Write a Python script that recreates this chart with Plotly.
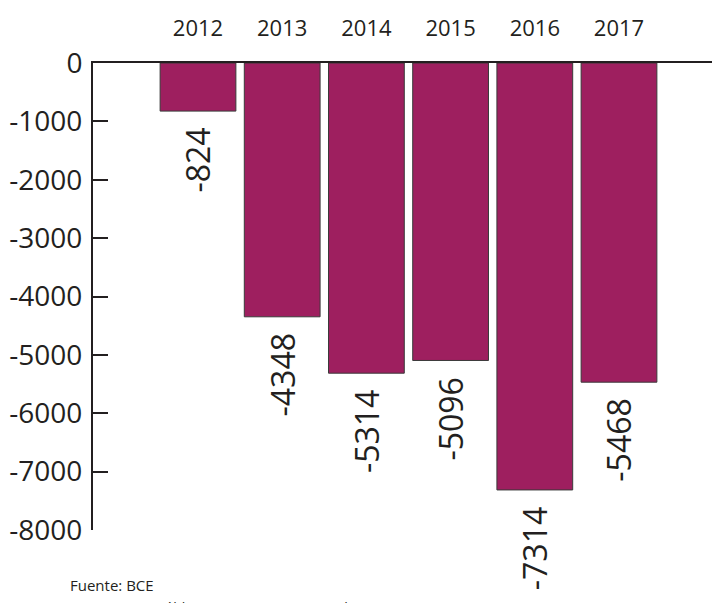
import plotly.graph_objects as go

years = ["2012", "2013", "2014", "2015", "2016", "2017"]
values = [-824, -4348, -5314, -5096, -7314, -5468]
y_ticks = [0, -1000, -2000, -3000, -4000, -5000, -6000, -7000, -8000]
footer_lines = ["Fuente: BCE", "SPNF: Sector Público no Financiero ajustado por IESS"]

bar_color = "#9E1F5F"
ink = "#231F20"
font_family = "Open Sans, Noto Sans, sans-serif"

# page body has an 8px margin; size the figure so no scrollbars appear
OFF = 8
W, H = 720 - 2 * OFF, 611 - 2 * OFF
L, T = 93 - OFF, 63 - OFF
B = H - (530 - OFF)
R = 0
plot_h = H - T - B
plot_w = W - L - R


def py(screen_y):
    return 1 - (screen_y - OFF - T) / plot_h


def px(screen_x):
    return (screen_x - OFF - L) / plot_w


xs = list(range(len(years)))
pitch = 84.2
x0 = -(198 - 93) / pitch
x1 = x0 + plot_w / pitch

fig = go.Figure()
fig.add_trace(go.Bar(
    x=xs, y=values, width=0.9,
    marker=dict(color=bar_color, line=dict(color="#3a3a3a", width=1)),
    hoverinfo="skip",
))

for x, v in zip(xs, values):
    fig.add_annotation(
        x=x, y=v, xref="x", yref="y", text=str(v), showarrow=False,
        textangle=-90, yanchor="top", xanchor="center", yshift=-15,
        font=dict(family=font_family, size=32, color=ink),
    )

fig.add_annotation(
    x=px(68), y=py(585), xref="paper", yref="paper", text=footer_lines[0], showarrow=False,
    font=dict(family=font_family, size=15, color=ink), xanchor="left", yanchor="middle",
)
fig.add_annotation(
    x=px(68), y=py(607), xref="paper", yref="paper", text=footer_lines[1], showarrow=False,
    font=dict(family=font_family, size=14, color=ink), xanchor="left", yanchor="middle",
)

fig.update_layout(
    width=W, height=H,
    margin=dict(l=L, r=R, t=T, b=B, autoexpand=False),
    paper_bgcolor="white", plot_bgcolor="white",
    showlegend=False,
    font=dict(family=font_family, color=ink),
    xaxis=dict(
        side="top", range=[x0, x1], tickmode="array", tickvals=xs, ticktext=years,
        showline=True, linecolor=ink, linewidth=2, showgrid=False, zeroline=False,
        ticks="", tickfont=dict(size=22, color=ink), ticklabelstandoff=16,
    ),
    yaxis=dict(
        range=[-8000, 0], tickmode="array", tickvals=y_ticks,
        ticktext=[str(t) for t in y_ticks],
        showline=True, linecolor=ink, linewidth=2, showgrid=False, zeroline=False,
        ticks="inside", ticklen=15, tickwidth=2, tickcolor=ink,
        tickfont=dict(size=28, color=ink), ticklabelstandoff=3,
    ),
)

fig.write_html("out.html")
